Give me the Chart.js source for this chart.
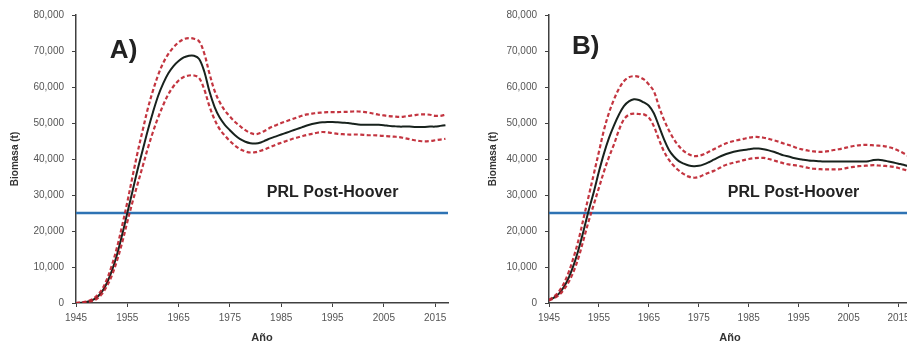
<!DOCTYPE html>
<html>
<head>
<meta charset="utf-8">
<script src="https://cdn.jsdelivr.net/npm/chart.js@4.4.1/dist/chart.umd.min.js"></script>
<style>
  html, body { margin: 0; padding: 0; background: #fff; overflow: hidden; width: 907px; height: 345px; }
  .panel { position: absolute; top: 0; width: 460px; height: 345px; }
  #wrapA { left: 0; }
  #wrapB { left: 460px; }
</style>
</head>
<body>
<div class="panel" id="wrapA"><canvas id="chartA" width="460" height="345"></canvas></div>
<div class="panel" id="wrapB"><canvas id="chartB" width="460" height="345"></canvas></div>
<script>
// years on the x axis (one value per year)
const years = [1945,1946,1947,1948,1949,1950,1951,1952,1953,1954,1955,1956,1957,1958,1959,
  1960,1961,1962,1963,1964,1965,1966,1967,1968,1969,1970,1971,1972,1973,1974,1975,1976,1977,
  1978,1979,1980,1981,1982,1983,1984,1985,1986,1987,1988,1989,1990,1991,1992,1993,1994,1995,
  1996,1997,1998,1999,2000,2001,2002,2003,2004,2005,2006,2007,2008,2009,2010,2011,2012,2013,
  2014,2015,2016,2017];
const xTicks = [1945, 1955, 1965, 1975, 1985, 1995, 2005, 2015];
const yTicks = [0, 10000, 20000, 30000, 40000, 50000, 60000, 70000, 80000];
const prlLevel = 25000; // PRL Post-Hoover

// Panel A: biomass (t), median and dashed bounds
const aMid = [0,100,300,700,1500,3000,5500,9000,13500,19000,25000,31000,37000,42500,48000,
  53000,57500,61000,63800,65800,67200,68200,68700,68700,67800,64300,58800,54500,51500,49500,
  48000,46600,45500,44800,44400,44300,44600,45200,45800,46300,46800,47300,47800,48300,48800,
  49300,49700,50000,50200,50300,50300,50200,50100,50000,49800,49600,49500,49500,49500,49500,
  49400,49200,49100,49000,49000,49000,48900,48900,48900,49000,49000,49200,49400];
const aHigh = [0,150,400,900,1900,3600,6500,10500,15500,21500,28000,35000,41800,48000,54000,
  59000,63300,66700,69200,71000,72400,73300,73600,73400,72700,69300,63800,59000,55800,53500,
  51800,50300,49100,48000,47200,46900,47300,48000,48800,49400,50000,50500,51000,51500,52000,
  52400,52600,52800,52900,53000,53000,53000,53100,53100,53200,53200,53100,52900,52600,52300,
  52100,51900,51800,51700,51800,52000,52200,52400,52400,52300,52000,52000,52300];
const aLow = [0,60,200,500,1100,2400,4600,7700,11800,16800,22500,28000,33000,38000,43000,
  47500,51500,55000,58000,60200,61800,62800,63200,63200,62500,59300,54700,51000,48300,46500,
  45000,43700,42700,42100,41800,41900,42300,42800,43400,44000,44500,45000,45500,45900,46300,
  46700,47000,47300,47500,47400,47200,47000,46900,46800,46800,46800,46700,46600,46600,46500,
  46400,46300,46200,46100,45800,45500,45200,45000,44900,45000,45200,45400,45600];

// Panel B
const bMid = [800,1500,2600,4500,7200,10800,15300,20500,26000,31000,36500,41500,45800,49300,52300,
  54700,56000,56600,56400,55700,54800,52700,49200,45600,42600,40700,39400,38700,38200,38000,
  38100,38500,39100,39800,40500,41100,41600,42000,42300,42500,42700,42900,42900,42700,42400,
  42000,41500,41000,40700,40300,40000,39800,39600,39500,39400,39300,39300,39300,39300,39300,
  39300,39300,39300,39300,39400,39700,39800,39600,39300,39000,38700,38400,38000];
const bHigh = [900,1800,3200,5500,8800,13000,18000,24000,30000,36000,42000,48000,52800,56500,59500,
  61600,62700,63000,62800,62100,60700,58800,54700,51000,48000,45500,43600,42200,41300,40800,
  40900,41300,42000,42700,43400,44100,44600,45000,45300,45600,45900,46100,46100,45900,45600,
  45200,44800,44300,43900,43400,42900,42600,42300,42100,42000,42000,42200,42500,42700,43000,
  43300,43600,43800,43900,43900,43800,43700,43600,43300,42900,42300,41600,40800];
const bLow = [700,1300,2200,3800,6000,9000,13000,18000,23000,27500,32000,36500,40500,44000,48000,
  51000,52300,52600,52500,52400,51500,49100,45500,42200,39800,38100,36800,35800,35100,34800,
  35000,35600,36200,36700,37400,38100,38600,39000,39300,39700,40000,40200,40300,40300,40000,
  39600,39200,38800,38500,38300,38100,37800,37500,37300,37200,37100,37100,37100,37100,37300,
  37600,37800,38000,38100,38200,38300,38200,38100,38000,37800,37500,37100,36700];

const X_MIN = 1945, X_MAX = 2017.5;
const FONT = "'Liberation Sans', Arial, sans-serif";
const AXIS = '#404040';
const LABEL = '#555555';
const RED = 'rgba(190,36,48,0.92)';
const BLACK = '#18221d';
const BLUE = '#2e73b4';

const toPoints = vals => vals.map((v, i) => ({ x: years[i], y: v }));

// draws panel letter and the PRL label in data coordinates
const panelText = {
  id: 'panelText',
  afterDatasetsDraw(chart, args, opts) {
    const { ctx, scales: { x, y } } = chart;
    ctx.save();
    ctx.fillStyle = '#222';
    ctx.textBaseline = 'middle';
    ctx.textAlign = 'left';
    for (const item of opts.items || []) {
      ctx.font = `bold ${item.size}px ${FONT}`;
      ctx.fillText(item.text, x.getPixelForValue(item.x), y.getPixelForValue(item.y));
    }
    ctx.restore();
  }
};

function makePanel(canvasId, mid, high, low, yAxisWidth, titlePad, padRight, items) {
  const dash = vals => ({
    data: toPoints(vals),
    borderColor: RED,
    borderWidth: 2.2,
    borderDash: [4, 2.5],
    pointRadius: 0,
    tension: 0.35,
    order: 2,
  });
  return new Chart(document.getElementById(canvasId), {
    type: 'line',
    data: {
      datasets: [
        {
          data: [{ x: X_MIN, y: prlLevel }, { x: X_MAX, y: prlLevel }],
          borderColor: BLUE,
          borderWidth: 2.5,
          pointRadius: 0,
          order: 4,
        },
        {
          data: toPoints(mid),
          borderColor: BLACK,
          borderWidth: 2,
          pointRadius: 0,
          tension: 0.35,
          order: 3,
        },
        dash(high),
        dash(low),
      ],
    },
    options: {
      responsive: false,
      animation: false,
      layout: { padding: { top: 15, right: padRight, bottom: 0, left: 0 } },
      plugins: {
        legend: { display: false },
        tooltip: { enabled: false },
        panelText: { items },
      },
      scales: {
        x: {
          type: 'linear',
          min: X_MIN,
          max: X_MAX,
          afterBuildTicks: s => { s.ticks = xTicks.map(v => ({ value: v })); },
          afterFit: s => { s.height = 42; },
          grid: { drawOnChartArea: false, drawTicks: true, tickLength: 4, color: AXIS },
          border: { color: AXIS, width: 1.5 },
          ticks: {
            autoSkip: false, maxRotation: 0, padding: 5,
            color: LABEL, font: { family: FONT, size: 10 },
            callback: v => String(v),
          },
          title: {
            display: true, text: 'Año', color: '#333',
            font: { family: FONT, size: 11, weight: 'bold' },
            padding: { top: 0, bottom: 0 },
          },
        },
        y: {
          min: 0,
          max: 80000,
          afterBuildTicks: s => { s.ticks = yTicks.map(v => ({ value: v })); },
          afterFit: s => { s.width = yAxisWidth; },
          grid: { drawOnChartArea: false, drawTicks: true, tickLength: 4, color: AXIS },
          border: { color: AXIS, width: 1.5 },
          ticks: {
            padding: 8, color: LABEL, font: { family: FONT, size: 10 },
            callback: v => v.toLocaleString('en-US'),
          },
          title: {
            display: true, text: 'Biomasa (t)', color: '#333',
            font: { family: FONT, size: 10, weight: 'bold' },
            padding: { top: titlePad, bottom: 0 },
          },
        },
      },
    },
    plugins: [panelText],
  });
}

makePanel('chartA', aMid, aHigh, aLow, 76, 9, 12, [
  { text: 'A)', x: 1951.6, y: 70000, size: 26 },
  { text: 'PRL Post-Hoover', x: 1982.2, y: 30600, size: 16 },
]);
makePanel('chartB', bMid, bHigh, bLow, 89, 27, 9, [
  { text: 'B)', x: 1949.6, y: 71100, size: 26 },
  { text: 'PRL Post-Hoover', x: 1980.8, y: 30600, size: 16 },
]);
</script>
</body>
</html>
